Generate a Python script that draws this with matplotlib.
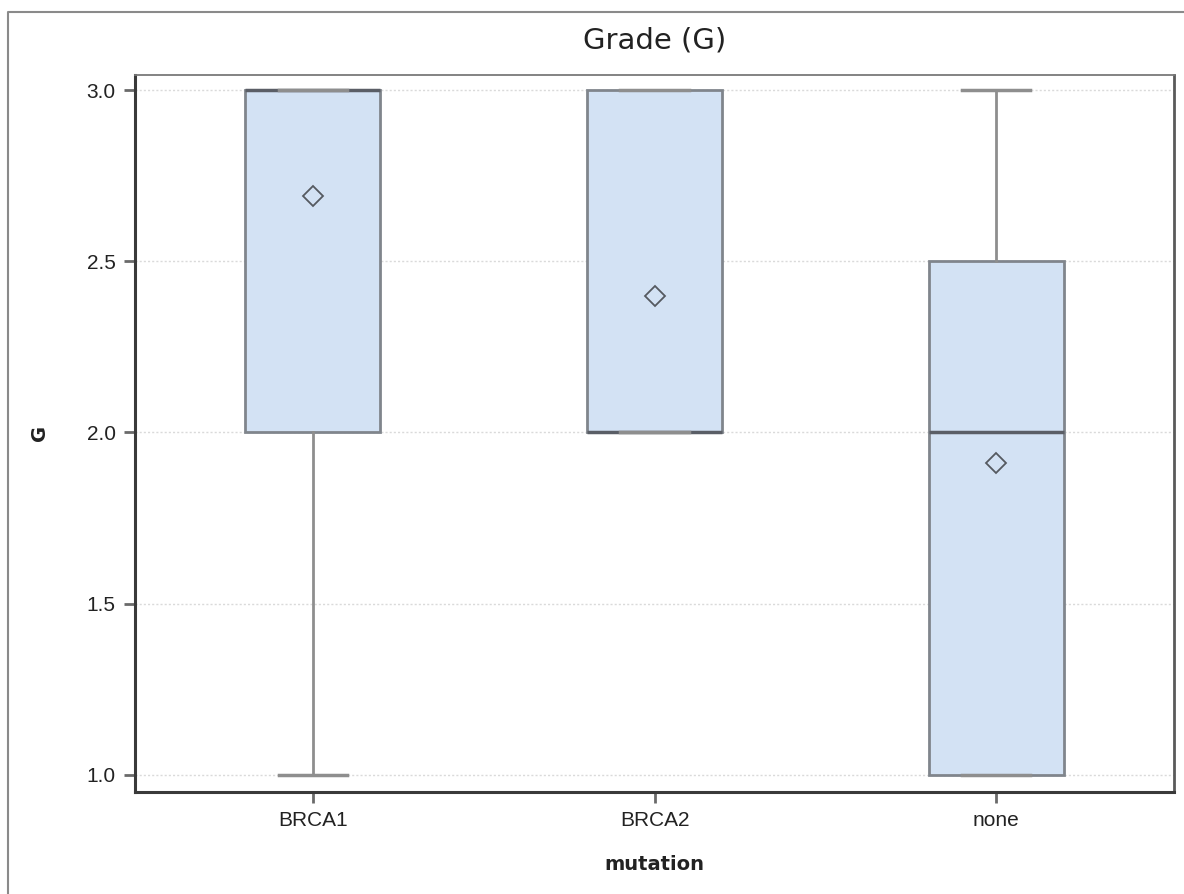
import matplotlib
matplotlib.use("Agg")
import matplotlib.pyplot as plt
from matplotlib.lines import Line2D

# ---- data ----
categories = ["BRCA1", "BRCA2", "none"]
q1 = [2.0, 2.0, 1.0]
medians = [3.0, 2.0, 2.0]
q3 = [3.0, 3.0, 2.5]
whisker_low = [1.0, 2.0, 1.0]
whisker_high = [3.0, 3.0, 3.0]
means = [2.69, 2.40, 1.91]
yticks = [1.0, 1.5, 2.0, 2.5, 3.0]

W, H = 1184, 894
fig = plt.figure(figsize=(W / 100, H / 100), dpi=100)
fig.patch.set_facecolor("white")

L, R, T, B = 135 / W, 1174 / W, 75 / H, 792 / H
ax = fig.add_axes([L, 1 - B, R - L, B - T])

stats = []
for i, c in enumerate(categories):
    stats.append(dict(label=c, q1=q1[i], med=medians[i], q3=q3[i],
                      whislo=whisker_low[i], whishi=whisker_high[i],
                      mean=means[i], fliers=[]))

positions = list(range(len(categories)))
box_fill = "#d3e2f4"
edge = "#80858c"
res = ax.bxp(stats, positions=positions, widths=0.395, capwidths=0.2,
             showmeans=True, showfliers=False, patch_artist=True,
             boxprops=dict(facecolor=box_fill, edgecolor=edge, linewidth=2),
             whiskerprops=dict(color="#8e8e8e", linewidth=2),
             capprops=dict(color="#8e8e8e", linewidth=2.5),
             medianprops=dict(color="#5a5e66", linewidth=2.5),
             meanprops=dict(marker="D", markerfacecolor="none",
                            markeredgecolor="#555a60", markersize=10,
                            markeredgewidth=1.3))
for b in res["boxes"]:
    b.set_zorder(2)
for c in res["caps"]:
    c.set_zorder(3)

ax.set_xlim(-0.52, 2.52)
ax.set_ylim(0.95, 3.044)
ax.set_yticks(yticks)
ax.set_yticklabels([f"{v:.1f}" for v in yticks])
ax.set_xticks(positions)
ax.set_xticklabels(categories)

ax.yaxis.grid(True, linestyle=(0, (1.5, 1.5)), color="#dadada", linewidth=1)
ax.set_axisbelow(True)

for lbl in ax.get_xticklabels() + ax.get_yticklabels():
    lbl.set_fontfamily("Liberation Sans")
    lbl.set_fontsize(15)
    lbl.set_color("#222222")
ax.tick_params(axis="both", length=8, width=2, color="#6a6a6a", pad=6)

ax.spines["left"].set_color("#3a3a3a")
ax.spines["left"].set_linewidth(2.2)
ax.spines["bottom"].set_color("#3a3a3a")
ax.spines["bottom"].set_linewidth(2.2)
ax.spines["top"].set_color("#7a7a7a")
ax.spines["top"].set_linewidth(1.3)
ax.spines["right"].set_color("#5a5a5a")
ax.spines["right"].set_linewidth(2)

# titles / labels
fig.text((135 + 1174) / 2 / W, 1 - 40 / H, "Grade (G)", ha="center", va="center",
         fontsize=21, family="DejaVu Sans", color="#222222")
fig.text((135 + 1174) / 2 / W, 1 - 864 / H, "mutation", ha="center", va="center",
         fontsize=14, fontweight="bold", family="DejaVu Sans", color="#222222")
fig.text(40 / W, 1 - 433 / H, "G", ha="center", va="center", rotation=90,
         fontsize=14, fontweight="bold", family="DejaVu Sans", color="#222222")

# figure frame (left and top edges visible)
fig.add_artist(Line2D([8 / W, 8 / W, 1.0], [0.0, 1 - 12 / H, 1 - 12 / H],
                      transform=fig.transFigure, color="#8a8a8a", linewidth=1.5))

fig.savefig("out.png", dpi=100)
